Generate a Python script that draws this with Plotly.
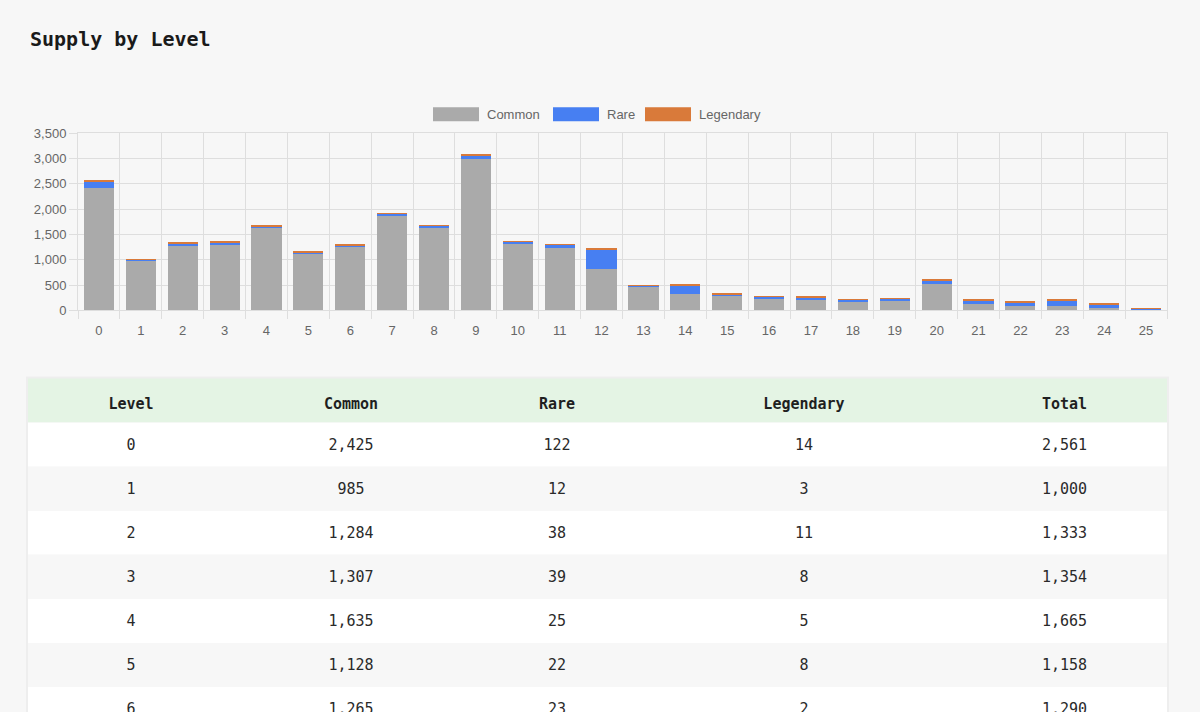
import plotly.graph_objects as go

levels = list(range(26))
common = [2425, 985, 1284, 1307, 1635, 1128, 1265, 1880, 1630, 2985, 1320, 1225, 815,
          460, 315, 285, 222, 212, 178, 185, 515, 120, 85, 92, 40, 22]
rare = [122, 12, 38, 39, 25, 22, 23, 35, 40, 80, 42, 68, 390,
        30, 165, 33, 45, 48, 36, 48, 80, 66, 72, 100, 65, 3]
legendary = [14, 3, 11, 8, 5, 8, 2, 4, 3, 4, 3, 4, 22,
             3, 25, 3, 3, 3, 2, 4, 25, 25, 20, 25, 33, 15]
totals = [c + r + l for c, r, l in zip(common, rare, legendary)]

series_names = ["Common", "Rare", "Legendary"]
series_colors = ["#aaaaaa", "#477ff2", "#d97a3a"]
headers = ["Level", "Common", "Rare", "Legendary", "Total"]

W, H = 1200, 728
BG = "#f7f7f7"
GRID = "#dedede"
MONO = "DejaVu Sans Mono"
SANS = "Liberation Sans"

# the paper gets drawn 16px shorter than asked and starts near y=7
TOP, DRAWN_H = 7, H - 16


def px_x(v):
    return v / W


def px_y(v):
    return 1 - (v - TOP) / DRAWN_H


fig = go.Figure()

for name, vals, color in zip(series_names, [common, rare, legendary], series_colors):
    fig.add_trace(go.Bar(
        x=levels, y=vals, name=name,
        marker=dict(color=color, line=dict(width=0)),
        showlegend=False,
    ))

# table under the chart, stripes are drawn as shapes so the text can sit lower
fmt = lambda v: f"{v:,}"
clear = "rgba(0,0,0,0)"
fig.add_trace(go.Table(
    domain=dict(x=[px_x(28), px_x(1167)], y=[0, px_y(386)]),
    columnwidth=[206, 234, 178, 316, 205],
    header=dict(
        values=[f"<b>{h}</b>" for h in headers],
        fill_color=clear,
        line=dict(color=clear, width=0),
        align="center",
        height=44,
        font=dict(family=MONO, size=15, color="#1f1f1f"),
    ),
    cells=dict(
        values=[[str(v) for v in levels],
                [fmt(v) for v in common],
                [fmt(v) for v in rare],
                [fmt(v) for v in legendary],
                [fmt(v) for v in totals]],
        fill_color=clear,
        line=dict(color=clear, width=0),
        align="center",
        height=44,
        font=dict(family=MONO, size=15, color="#2a2a2a"),
    ),
))

shapes = []
# card shadow + header band + white rows
shapes.append(dict(type="rect", xref="paper", yref="paper", layer="below",
                   x0=px_x(26), x1=px_x(1169), y0=px_y(730), y1=px_y(376),
                   fillcolor="rgba(0,0,0,0.035)", line=dict(width=0)))
shapes.append(dict(type="rect", xref="paper", yref="paper", layer="below",
                   x0=px_x(28), x1=px_x(1167), y0=px_y(422), y1=px_y(378),
                   fillcolor="#e4f4e4", line=dict(width=0)))
for i in levels:
    top = 422 + 44 * i
    shapes.append(dict(type="rect", xref="paper", yref="paper", layer="below",
                       x0=px_x(28), x1=px_x(1167), y0=px_y(top + 44), y1=px_y(top),
                       fillcolor="#ffffff" if i % 2 == 0 else BG, line=dict(width=0)))

annotations = [dict(text="<b>Supply by Level</b>", xref="paper", yref="paper",
                    x=px_x(28), y=px_y(39), xanchor="left", yanchor="middle",
                    showarrow=False, font=dict(family=MONO, size=20, color="#1a1a1a"))]

# legend drawn as chart.js style boxes
legend_items = [(433, 485, "Common"), (553, 605, "Rare"), (645, 697, "Legendary")]
for (bx, tx, label), color in zip(legend_items, series_colors):
    shapes.append(dict(type="rect", xref="paper", yref="paper",
                       x0=px_x(bx), x1=px_x(bx + 46), y0=px_y(121), y1=px_y(107),
                       fillcolor=color, line=dict(width=0)))
    annotations.append(dict(text=label, xref="paper", yref="paper",
                            x=px_x(tx), y=px_y(114), xanchor="left", yanchor="middle",
                            showarrow=False, font=dict(family=SANS, size=13, color="#666666")))

fig.update_layout(
    width=W, height=H,
    margin=dict(l=0, r=0, t=0, b=0),
    paper_bgcolor=BG, plot_bgcolor=BG,
    barmode="stack",
    bargap=0.28,
    xaxis=dict(
        domain=[px_x(78), px_x(1167)],
        range=[-0.5, 25.5],
        tickvals=levels, ticktext=[str(v) for v in levels],
        showgrid=False, zeroline=False,
        ticks="outside", ticklen=8, tickcolor=clear,
        minor=dict(tick0=-0.5, dtick=1, showgrid=True, gridcolor=GRID, gridwidth=1,
                   ticks="outside", ticklen=8, tickcolor=GRID),
        showline=True, linecolor=GRID, mirror=True,
        tickfont=dict(family=SANS, size=13, color="#666666"),
        fixedrange=True,
    ),
    yaxis=dict(
        domain=[px_y(310), px_y(133)],
        range=[0, 3500], dtick=500, tickformat=",d",
        showgrid=True, gridcolor=GRID, zeroline=False,
        showline=True, linecolor=GRID, mirror=True,
        ticks="outside", ticklen=8, tickcolor=GRID,
        tickfont=dict(family=SANS, size=13, color="#666666"),
        fixedrange=True,
    ),
    shapes=shapes,
    annotations=annotations,
)

fig.write_html(
    "out.html",
    config={"displayModeBar": False},
    post_script="document.body.style.margin='0';document.body.style.overflow='hidden';",
)
